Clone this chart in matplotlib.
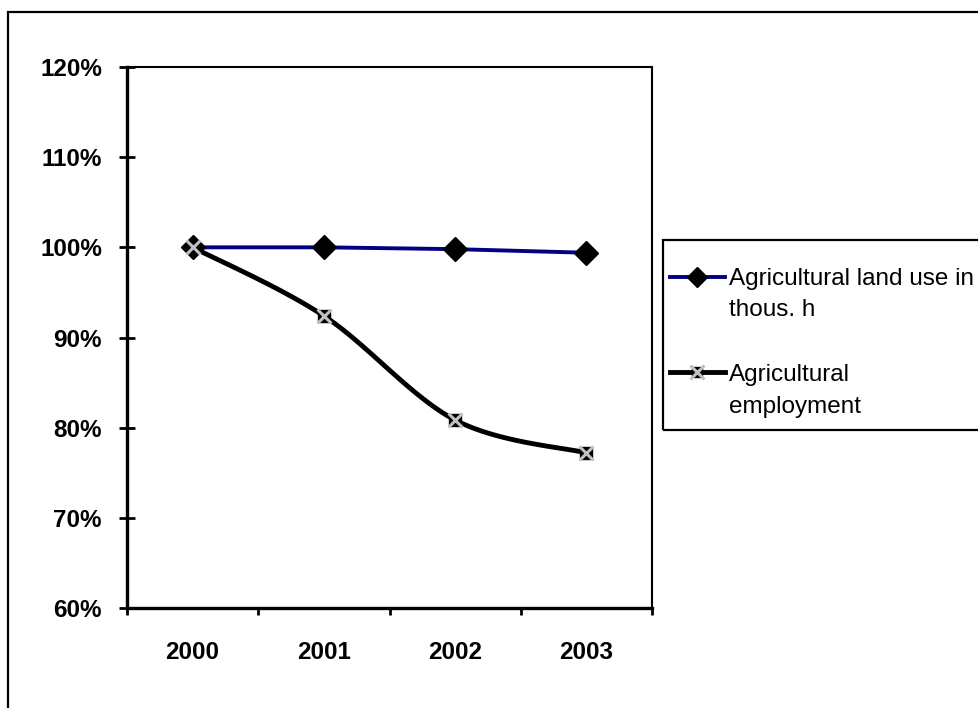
import numpy as np
import matplotlib
matplotlib.use("Agg")
import matplotlib.pyplot as plt
from matplotlib.patches import Rectangle
from matplotlib.lines import Line2D
from matplotlib.ticker import FixedLocator, FuncFormatter

# 数据
years = ["2000", "2001", "2002", "2003"]
land_use = [100.0, 100.0, 99.8, 99.4]
employment = [100.0, 92.4, 80.85, 77.2]
land_label = ["Agricultural land use in", "thous. h"]
emp_label = ["Agricultural", "employment"]

plt.rcParams['font.family'] = ['Liberation Sans', 'DejaVu Sans']

W, H = 979.0, 708.0


def smooth(xs, ys, n=40):
    # Excel 风格的平滑线 (Catmull-Rom)
    pts = np.column_stack([xs, ys]).astype(float)
    pts = np.vstack([pts[0], pts, pts[-1]])
    out = []
    for i in range(1, len(pts) - 2):
        p0, p1, p2, p3 = pts[i - 1], pts[i], pts[i + 1], pts[i + 2]
        c1 = p1 + (p2 - p0) / 6.0
        c2 = p2 - (p3 - p1) / 6.0
        t = np.linspace(0, 1, n)[:, None]
        seg = ((1 - t) ** 3) * p1 + 3 * ((1 - t) ** 2) * t * c1 + 3 * (1 - t) * t ** 2 * c2 + t ** 3 * p2
        out.append(seg)
    out = np.vstack(out)
    return out[:, 0], out[:, 1]


def fx(px):
    return px / W


def fy(py):
    return 1 - py / H


fig = plt.figure(figsize=(9.79, 7.08), dpi=100)
ax = fig.add_axes([fx(127), fy(608), (652 - 127) / W, (608 - 67) / H])

x = np.arange(len(years))

# 土地使用
ax.plot(x, land_use, color='#000080', lw=2.8, zorder=3)
ax.plot(x, land_use, ls='none', marker='D', ms=12.5, mfc='black', mec='black', zorder=4)

# 就业 (平滑线)
sx, sy = smooth(x, employment)
ax.plot(sx, sy, color='black', lw=3.5, zorder=5, solid_capstyle='round')
ax.plot(x, employment, ls='none', marker='s', ms=9, mfc='black', mec='black', zorder=6)
ax.plot(x, employment, ls='none', marker='x', ms=10, mew=2.2, color='#c0c0c0', zorder=7)

ax.set_xlim(-0.5, len(years) - 0.5)
ax.set_ylim(60, 120)
ax.set_yticks(np.arange(60, 121, 10))
ax.yaxis.set_major_formatter(FuncFormatter(lambda v, p: "%d%%" % v))
ax.set_xticks(x)
ax.set_xticklabels(years)
ax.xaxis.set_minor_locator(FixedLocator(np.arange(-0.5, len(years), 1.0)))

for lab in ax.get_xticklabels() + ax.get_yticklabels():
    lab.set_fontweight('bold')
    lab.set_fontsize(17.5)

ax.tick_params(axis='y', direction='inout', length=12, width=2, pad=12)
ax.tick_params(axis='x', which='major', length=0, pad=24)
ax.tick_params(axis='x', which='minor', direction='out', length=5, width=2)

ax.spines['left'].set_linewidth(2.4)
ax.spines['bottom'].set_linewidth(2.4)
ax.spines['top'].set_linewidth(1.5)
ax.spines['right'].set_linewidth(1.5)

# 图例 (手工绘制, 标记与第一行文字对齐)
fig.patches.append(Rectangle((fx(663), fy(430)), 1.0, (430 - 240) / H, transform=fig.transFigure,
                             fill=False, edgecolor='black', lw=1.6))
fig.lines.append(Line2D([fx(670), fx(725)], [fy(277), fy(277)], transform=fig.transFigure,
                        color='#000080', lw=2.8))
fig.lines.append(Line2D([fx(697)], [fy(277)], transform=fig.transFigure, ls='none',
                        marker='D', ms=10, mfc='black', mec='black'))
fig.lines.append(Line2D([fx(670), fx(725)], [fy(372), fy(372)], transform=fig.transFigure,
                        color='black', lw=3.5))
fig.lines.append(Line2D([fx(697)], [fy(372)], transform=fig.transFigure, ls='none',
                        marker='s', ms=7, mfc='black', mec='black'))
fig.lines.append(Line2D([fx(697)], [fy(372)], transform=fig.transFigure, ls='none',
                        marker='x', ms=10, mew=2.2, color='#c0c0c0'))
for txt, base in zip(land_label + emp_label, [285, 316, 381, 413]):
    fig.text(fx(729), fy(base), txt, fontsize=17.5, va='baseline', ha='left')

# 外框
fig.patches.append(Rectangle((fx(8), -0.1), 1.2, 1.1 - 12 / H, transform=fig.transFigure,
                             fill=False, edgecolor='black', lw=1.6))

fig.savefig("out.png", dpi=100)
